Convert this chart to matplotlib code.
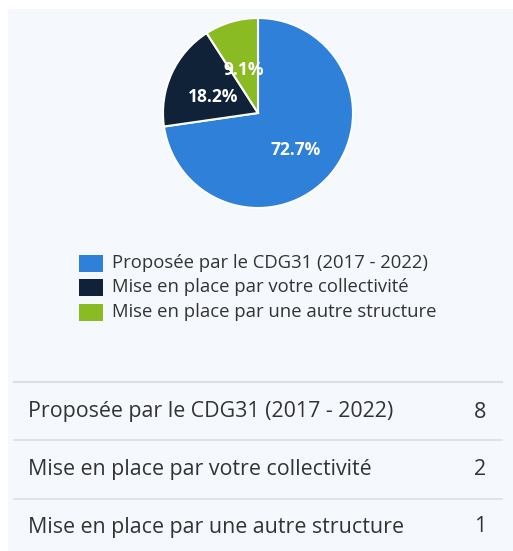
import matplotlib
matplotlib.use("Agg")
import matplotlib.pyplot as plt
from matplotlib.patches import Rectangle

categories = ["Proposée par le CDG31 (2017 - 2022)",
              "Mise en place par votre collectivité",
              "Mise en place par une autre structure"]
counts = [8, 2, 1]
colors = ["#2f80d9", "#0f2238", "#8bbb22"]

W, H = 513, 551
fig = plt.figure(figsize=(W / 100, H / 100), dpi=100)
fig.patch.set_facecolor("white")

# overlay axes in pixel coordinates
ov = fig.add_axes([0, 0, 1, 1])
ov.set_xlim(0, W)
ov.set_ylim(H, 0)
ov.axis("off")
ov.add_patch(Rectangle((8, 9), W - 8, H - 9, facecolor="#f5f8fc", edgecolor="none", zorder=0))

# pie
cx, cy, r = 258, 113, 95
pax = fig.add_axes([(cx - r) / W, 1 - (cy + r) / H, 2 * r / W, 2 * r / H])
wedges, texts, autotexts = pax.pie(
    counts, colors=colors, startangle=90, counterclock=False,
    autopct="%1.1f%%", pctdistance=0.52,
    wedgeprops=dict(edgecolor="white", linewidth=1.5),
    textprops=dict(color="white", fontsize=12.5, fontweight="bold", family="Open Sans"))
for t in autotexts:
    x, y = t.get_position()
    t.set_position((x, y - 0.045))
pax.set_xlim(-1.0, 1.0)
pax.set_ylim(-1.0, 1.0)
pax.axis("off")
pax.patch.set_alpha(0)

# legend
text_color = "#333333"
for i, (cat, col) in enumerate(zip(categories, colors)):
    y = 263 + i * 24.5
    ov.add_patch(Rectangle((79, y - 8.5), 24, 17, facecolor=col, edgecolor="none"))
    ov.text(112, y, cat, fontsize=13.3, family="Open Sans", color=text_color,
            va="center", ha="left")

# table
line_color = "#dcdfe3"
ov.plot([14, 502], [382, 382], color=line_color, lw=1.5)
row_lines = [440, 499]
for yl in row_lines:
    ov.plot([14, 502], [yl, yl], color=line_color, lw=1.2)
for i, (cat, n) in enumerate(zip(categories, counts)):
    y = 412 + i * 57.5
    ov.text(28, y, cat, fontsize=15.4, family="Open Sans", color=text_color,
            va="center", ha="left")
    ov.text(486, y, str(n), fontsize=15.4, family="Open Sans", color=text_color,
            va="center", ha="right")

fig.savefig("out.png", dpi=100, facecolor=fig.get_facecolor())
